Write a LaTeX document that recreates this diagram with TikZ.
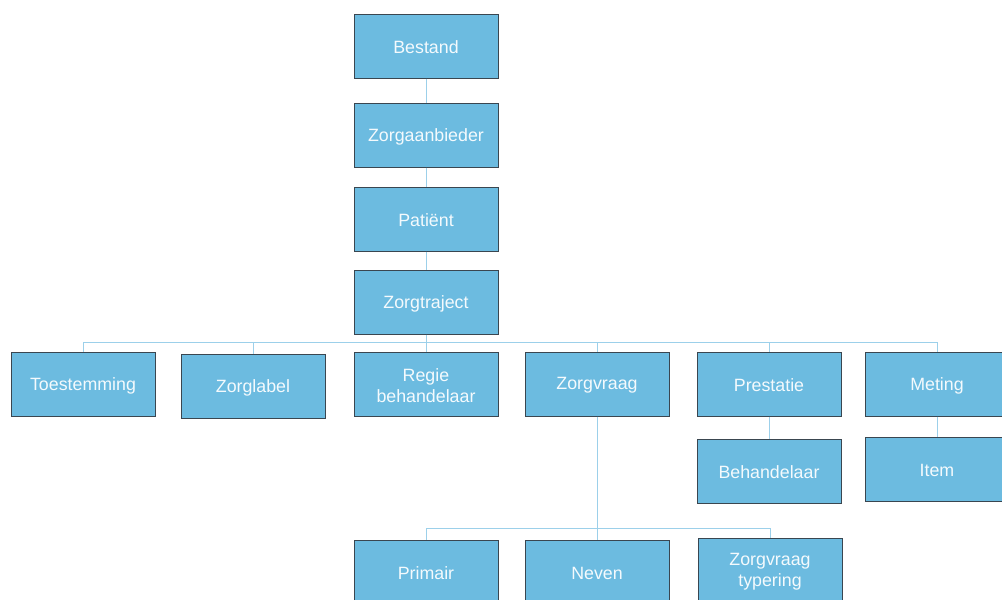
\documentclass[tikz,border=0pt]{standalone}
\usepackage{fontspec}
\setmainfont{Liberation Sans}
\definecolor{boxfill}{HTML}{6CBBE0}
\definecolor{boxline}{HTML}{3A4650}
\definecolor{conn}{HTML}{9CD0EA}
\definecolor{txt}{HTML}{F4FAFD}
\begin{document}
\begin{tikzpicture}[x=1pt,y=-1pt,
  box/.style={draw=boxline, line width=1pt, fill=boxfill, minimum width=144pt, minimum height=64pt,
    inner sep=0pt, align=center, text=txt, font=\fontsize{17.8}{21}\selectfont},
  lbl/.style={text=txt, align=center, inner sep=0pt, font=\fontsize{17.8}{21}\selectfont},
  link/.style={draw=conn, line width=1pt}]
\useasboundingbox (0,0) rectangle (1002,600);
\node[box] (bestand) at (426,46) {};
\node[box] (aanb) at (426,135) {};
\node[box] (patient) at (426,219) {};
\node[box] (traject) at (426,302) {};
\node[box] (toest) at (83,384) {};
\node[box] (label) at (253,386) {};
\node[box] (regie) at (426,384) {};
\node[box] (vraag) at (597,384) {};
\node[box] (prest) at (769,384) {};
\node[box] (meting) at (937,384) {};
\node[box] (behand) at (769,471) {};
\node[box] (item) at (937,469) {};
\node[box] (prim) at (426,572) {};
\node[box] (neven) at (597,572) {};
\node[box] (typ) at (770,570) {};
\foreach \n/\t in {bestand/Bestand, aanb/Zorgaanbieder, patient/Patiënt, traject/Zorgtraject,
  toest/Toestemming, label/Zorglabel, regie/{Regie\\behandelaar}, vraag/Zorgvraag, prest/Prestatie,
  meting/Meting, behand/Behandelaar, item/Item, prim/Primair, neven/Neven, typ/{Zorgvraag\\typering}}
  \node[lbl] (\n-t) at ([yshift=-1.5pt]\n.center) {\t};
\coordinate (bus1) at (426,342);
\coordinate (bus2) at (597,528);
\draw[link] (bestand) -- (aanb);
\draw[link] (aanb) -- (patient);
\draw[link] (patient) -- (traject);
\draw[link] (traject.south) -- (bus1);
\foreach \n in {toest,label,regie,vraag,prest,meting}
  \draw[link] (bus1) -| (\n.north);
\draw[link] (prest) -- (behand);
\draw[link] (meting) -- (item);
\draw[link] (vraag.south) -- (bus2);
\foreach \n in {prim,neven,typ}
  \draw[link] (bus2) -| (\n.north);
\end{tikzpicture}
\end{document}
